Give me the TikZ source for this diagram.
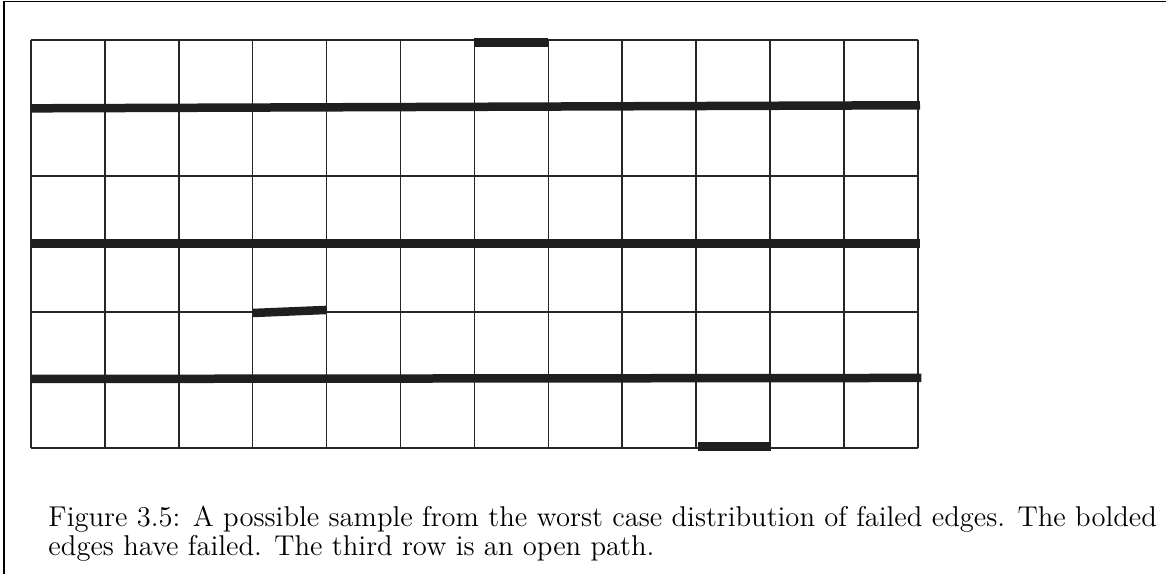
\documentclass[tikz,border=0pt]{standalone}
\usepackage{tikz}
\usetikzlibrary{positioning}

\begin{document}
\begin{tikzpicture}[x=29.56pt,y=27.2pt]
 \tikzstyle{gridline}=[line width=.6pt,black!85]
 \tikzstyle{failed}=[line width=3.4pt,black!88]
 \tikzstyle{framing}=[line width=.6pt]
 \useasboundingbox (-0.4195,-1.853) rectangle (15.359,6.588);
 % frame
 \draw[framing] (-0.365,-1.853) -- (-0.365,6.568) -- (15.359,6.568);
 % the 12 x 6 lattice
 \foreach \i in {0,...,12}
   \draw[gridline] (\i,0) -- (\i,6);
 \foreach \j in {0,...,6}
   \draw[gridline] (0,\j) -- (12,\j);
 % failed edges
 \draw[failed] (6,5.96) -- (7,5.96);
 \draw[failed] (0,4.995) -- (12.03,5.04);
 \draw[failed] (0,3.01) -- (12.03,3.01);
 \draw[failed] (3,1.985) -- (4,2.03);
 \draw[failed] (0,1.015) -- (12.05,1.03);
 \draw[failed] (9.03,0.02) -- (10.02,0.02);
 % caption
 \node (caption) [anchor=base west,inner sep=0pt,
   align=left,font=\fontsize{11.45}{10}\selectfont] at (0.23,-1.58)
   {Figure 3.5: A possible sample from the worst case distribution of failed
   edges. The bolded\\ edges have failed. The third row is an open path.};
\end{tikzpicture}
\end{document}
